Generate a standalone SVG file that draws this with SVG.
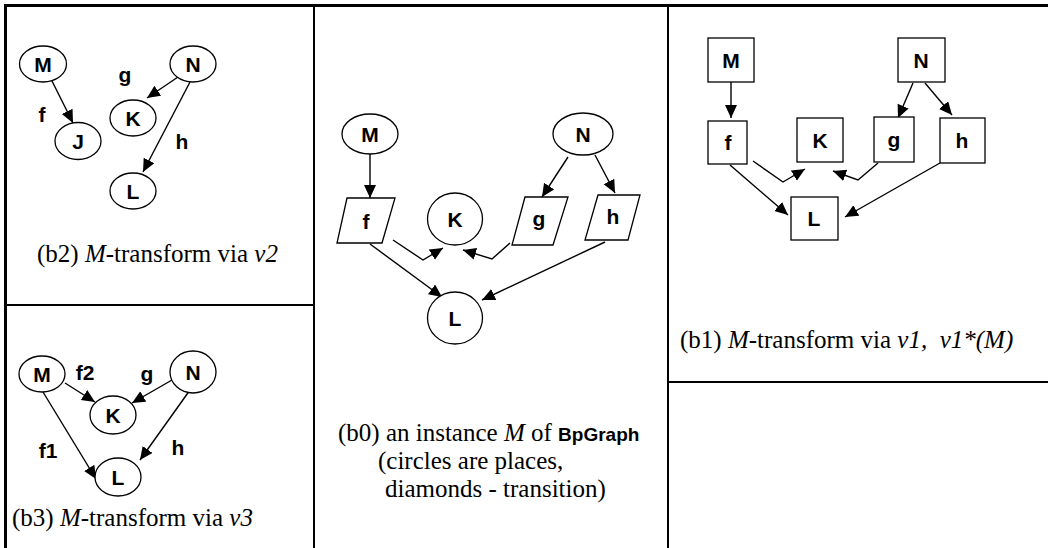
<svg xmlns="http://www.w3.org/2000/svg" width="1048" height="548" viewBox="0 0 1048 548">
<defs>
<marker id="ah" markerUnits="userSpaceOnUse" markerWidth="16" markerHeight="14" refX="13" refY="6" orient="auto"><path d="M0,0 L13,6 L0,12 z" fill="#000"/></marker>
<style>
.n{fill:#fff;stroke:#000;stroke-width:1.3}
.t{font-family:"Liberation Sans",Arial,sans-serif;font-weight:bold;font-size:21px;text-anchor:middle;fill:#000}
.c{fill:none;stroke:#000;stroke-width:1.4;marker-end:url(#ah)}
.cap{font-family:"Liberation Serif","Times New Roman",serif;font-size:25px;fill:#000}
.frame{stroke:#000;fill:none}
</style>
</defs>
<rect width="1048" height="548" fill="#fff"/>
<g id="frame">
<line class="frame" x1="4" y1="5.5" x2="1048" y2="5.5" stroke-width="3"/>
<line class="frame" x1="5.5" y1="4" x2="5.5" y2="548" stroke-width="3"/>
<line class="frame" x1="314" y1="5" x2="314" y2="548" stroke-width="2"/>
<line class="frame" x1="668" y1="5" x2="668" y2="548" stroke-width="2"/>
<line class="frame" x1="5" y1="305" x2="314" y2="305" stroke-width="2"/>
<line class="frame" x1="668" y1="382" x2="1048" y2="382" stroke-width="2"/>
</g>
<g id="connectors">
<line class="c" x1="51" y1="79" x2="73" y2="123"/>
<line class="c" x1="178" y1="77" x2="147" y2="98"/>
<line class="c" x1="190" y1="82" x2="143" y2="172"/>
<line class="c" x1="65" y1="383" x2="95" y2="402"/>
<line class="c" x1="43" y1="392" x2="96" y2="479"/>
<line class="c" x1="172" y1="380" x2="132" y2="403"/>
<line class="c" x1="190" y1="390" x2="140" y2="460"/>
<line class="c" x1="370" y1="153" x2="370" y2="198"/>
<line class="c" x1="568" y1="157" x2="542" y2="197"/>
<line class="c" x1="595" y1="155" x2="615" y2="193"/>
<polyline class="c" points="393,240 423,260 443,248"/>
<polyline class="c" points="510,243 492,259 463,250"/>
<line class="c" x1="370" y1="244" x2="442" y2="297"/>
<line class="c" x1="605" y1="242" x2="482" y2="300"/>
<line class="c" x1="731" y1="82" x2="731" y2="118"/>
<line class="c" x1="913" y1="83" x2="898" y2="118"/>
<line class="c" x1="925" y1="83" x2="952" y2="115"/>
<polyline class="c" points="753,161 783,182 805,169"/>
<polyline class="c" points="878,163 858,180 833,171"/>
<line class="c" x1="730" y1="165" x2="788" y2="215"/>
<line class="c" x1="940" y1="163" x2="845" y2="217"/>
</g>
<g id="b2">
<g id="b2-M"><ellipse class="n" cx="43" cy="64" rx="23.5" ry="18"/><text class="t" x="43" y="72">M</text></g>
<g id="b2-N"><ellipse class="n" cx="193" cy="64" rx="23" ry="18"/><text class="t" x="193" y="72">N</text></g>
<g id="b2-J"><ellipse class="n" cx="78" cy="141" rx="23" ry="18.5"/><text class="t" x="78" y="149">J</text></g>
<g id="b2-K"><ellipse class="n" cx="133" cy="118" rx="23" ry="18"/><text class="t" x="133" y="126">K</text></g>
<g id="b2-L"><ellipse class="n" cx="133" cy="191" rx="23" ry="18"/><text class="t" x="133" y="199">L</text></g>
<text class="t" x="42" y="122">f</text>
<text class="t" x="125" y="82">g</text>
<text class="t" x="182" y="149">h</text>
<text class="cap" x="37" y="262">(b2) <tspan font-style="italic">M</tspan>-transform via <tspan font-style="italic">v2</tspan></text>
</g>
<g id="b3">
<g id="b3-M"><ellipse class="n" cx="42" cy="374" rx="23" ry="18"/><text class="t" x="42" y="382">M</text></g>
<g id="b3-N"><ellipse class="n" cx="193" cy="372" rx="23" ry="21"/><text class="t" x="193" y="380">N</text></g>
<g id="b3-K"><ellipse class="n" cx="113" cy="415" rx="23" ry="19"/><text class="t" x="113" y="423">K</text></g>
<g id="b3-L"><ellipse class="n" cx="118" cy="477" rx="23" ry="19"/><text class="t" x="118" y="485">L</text></g>
<text class="t" x="85" y="380">f2</text>
<text class="t" x="147" y="381">g</text>
<text class="t" x="48" y="458">f1</text>
<text class="t" x="178" y="455">h</text>
<text class="cap" x="12" y="526">(b3) <tspan font-style="italic">M</tspan>-transform via <tspan font-style="italic">v3</tspan></text>
</g>
<g id="b0">
<g id="b0-M"><ellipse class="n" cx="370" cy="134" rx="28" ry="20"/><text class="t" x="370" y="142">M</text></g>
<g id="b0-N"><ellipse class="n" cx="583" cy="134" rx="30" ry="21"/><text class="t" x="583" y="142">N</text></g>
<g id="b0-f"><polygon class="n" points="347,198 395,198 382,243 337,243"/><text class="t" x="366" y="229">f</text></g>
<g id="b0-K"><ellipse class="n" cx="455" cy="219" rx="27.5" ry="26"/><text class="t" x="455" y="227">K</text></g>
<g id="b0-g"><polygon class="n" points="525,197 568,197 553,245 512,245"/><text class="t" x="539" y="226">g</text></g>
<g id="b0-h"><polygon class="n" points="598,195 640,195 628,240 585,240"/><text class="t" x="613" y="224">h</text></g>
<g id="b0-L"><ellipse class="n" cx="455" cy="318" rx="27.5" ry="26"/><text class="t" x="455" y="326">L</text></g>
<text class="cap" x="338" y="441">(b0) an instance <tspan font-style="italic">M</tspan> of <tspan font-family="Liberation Sans,Arial,sans-serif" font-weight="bold" font-size="19">BpGraph</tspan></text>
<text class="cap" x="378" y="469">(circles are places,</text>
<text class="cap" x="385" y="497">diamonds - transition)</text>
</g>
<g id="b1">
<g id="b1-M"><rect class="n" x="708" y="38" width="46" height="44"/><text class="t" x="731" y="68">M</text></g>
<g id="b1-N"><rect class="n" x="898" y="38" width="47" height="44"/><text class="t" x="921" y="68">N</text></g>
<g id="b1-f"><rect class="n" x="708" y="121" width="39" height="43"/><text class="t" x="728" y="150">f</text></g>
<g id="b1-K"><rect class="n" x="797" y="118" width="46" height="44"/><text class="t" x="820" y="148">K</text></g>
<g id="b1-g"><rect class="n" x="874" y="117" width="40" height="45"/><text class="t" x="894" y="147">g</text></g>
<g id="b1-h"><rect class="n" x="940" y="118" width="45" height="45"/><text class="t" x="962" y="148">h</text></g>
<g id="b1-L"><rect class="n" x="791" y="197" width="47" height="43"/><text class="t" x="814" y="226">L</text></g>
<text class="cap" x="680" y="348" xml:space="preserve">(b1) <tspan font-style="italic">M</tspan>-transform via <tspan font-style="italic">v1,</tspan>  <tspan font-style="italic">v1*(M)</tspan></text>
</g>
</svg>
